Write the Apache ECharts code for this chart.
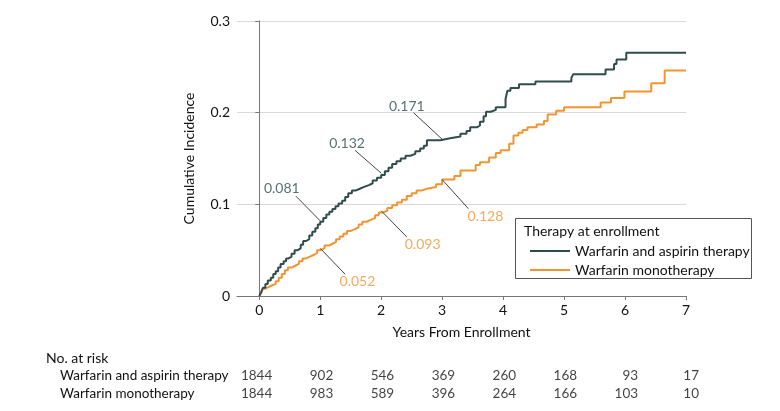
<!DOCTYPE html>
<html>
<head>
<meta charset="utf-8">
<script src="https://cdn.jsdelivr.net/npm/echarts@6/dist/echarts.min.js"></script>
<style>
html,body{margin:0;padding:0;background:#fff;}
#chart{width:780px;height:411px;}
</style>
</head>
<body>
<div id="chart"></div>
<script>
// ---------- data ----------
const seriesNames = ['Warfarin and aspirin therapy', 'Warfarin monotherapy'];

const aspirinTimes = [0,0.03,0.06,0.10,0.14,0.19,0.23,0.27,0.31,0.35,0.40,0.44,0.48,0.53,0.58,0.63,0.68,0.72,0.77,0.82,0.87,0.92,0.96,1.00,1.05,1.10,1.15,1.20,1.25,1.30,1.36,1.41,1.46,1.52,1.58,1.65,1.72,1.80,1.86,1.93,2.00,2.06,2.12,2.18,2.25,2.32,2.40,2.48,2.56,2.64,2.70,2.75,2.97,3.13,3.30,3.40,3.46,3.57,3.62,3.68,3.72,3.80,3.88,4.04,4.07,4.12,4.26,4.53,5.12,5.15,5.68,5.82,5.86,6.02,7.00];
const aspirinValues = [0,0.004,0.009,0.013,0.017,0.020,0.024,0.027,0.031,0.035,0.038,0.041,0.043,0.046,0.050,0.052,0.056,0.060,0.062,0.066,0.070,0.074,0.078,0.081,0.085,0.089,0.092,0.095,0.098,0.101,0.104,0.108,0.112,0.115,0.117,0.119,0.121,0.123,0.126,0.129,0.132,0.136,0.140,0.144,0.147,0.150,0.153,0.155,0.158,0.161,0.164,0.170,0.172,0.174,0.177,0.180,0.184,0.186,0.190,0.196,0.201,0.203,0.206,0.215,0.224,0.227,0.231,0.234,0.238,0.242,0.247,0.253,0.258,0.2655,0.2655];

const monoTimes = [0,0.03,0.06,0.10,0.16,0.22,0.27,0.32,0.37,0.42,0.47,0.53,0.59,0.65,0.71,0.77,0.83,0.90,0.95,1.00,1.07,1.14,1.20,1.26,1.32,1.38,1.44,1.50,1.57,1.63,1.69,1.76,1.83,1.90,1.96,2.02,2.10,2.18,2.26,2.34,2.42,2.50,2.58,2.66,2.75,2.90,3.00,3.20,3.30,3.55,3.62,3.77,3.88,3.96,4.10,4.17,4.25,4.32,4.40,4.55,4.67,4.73,4.87,5.00,5.60,5.77,5.99,6.43,6.65,7.00];
const monoValues = [0,0.003,0.008,0.010,0.012,0.013,0.016,0.020,0.024,0.028,0.031,0.033,0.035,0.038,0.041,0.043,0.045,0.047,0.050,0.052,0.055,0.057,0.059,0.062,0.065,0.068,0.071,0.073,0.075,0.078,0.081,0.083,0.085,0.088,0.091,0.093,0.096,0.099,0.102,0.105,0.109,0.112,0.115,0.117,0.119,0.122,0.127,0.131,0.137,0.143,0.146,0.151,0.156,0.159,0.166,0.175,0.178,0.181,0.184,0.187,0.191,0.198,0.202,0.206,0.211,0.216,0.223,0.232,0.246,0.246];

const xTicks = [0,1,2,3,4,5,6,7];
const yTicks = [0,0.1,0.2,0.3];

const atRiskAspirin = [1844,902,546,369,260,168,93,17];
const atRiskMono    = [1844,983,589,396,264,166,103,10];

// callout annotations: series index, point on curve, label value text
const calloutText   = ['0.081','0.132','0.171','0.052','0.093','0.128'];
const calloutSeries = [0,0,0,1,1,1];
const calloutPoint  = [[1,0.082],[2,0.134],[3,0.171],[1,0.052],[2,0.093],[3,0.127]];
const calloutElbow  = [[0.60,0.109],[1.57,0.159],[2.53,0.200],[1.41,0.0237],[2.42,0.0644],[3.43,0.0953]];
const calloutLabel  = [[0.37,0.117],[1.44,0.166],[2.42,0.207],[1.61,0.016],[2.68,0.0564],[3.71,0.0862]];

// ---------- style ----------
const colors = ['#2f4d4a', '#f39433'];
const FONT = 'Lato';
const TXT = '#111';
const FS = 14;

const zip = (a, b) => a.map((v, i) => [v, b[i]]);

const chart = echarts.init(document.getElementById('chart'), null, {renderer: 'canvas'});

const series = [
  {
    name: seriesNames[0], type: 'line', step: 'end', symbol: 'none',
    data: zip(aspirinTimes, aspirinValues),
    lineStyle: {color: colors[0], width: 2}, itemStyle: {color: colors[0]},
    z: 4, xAxisIndex: 0, yAxisIndex: 0
  },
  {
    name: seriesNames[1], type: 'line', step: 'end', symbol: 'none',
    data: zip(monoTimes, monoValues),
    lineStyle: {color: colors[1], width: 2}, itemStyle: {color: colors[1]},
    z: 3, xAxisIndex: 0, yAxisIndex: 0
  },
  {
    type: 'lines', coordinateSystem: 'cartesian2d', polyline: true,
    xAxisIndex: 0, yAxisIndex: 0, silent: true, z: 5,
    lineStyle: {color: '#444', width: 1, opacity: 1},
    data: calloutPoint.map((p, i) => ({coords: [p, calloutElbow[i]]}))
  },
  {
    type: 'scatter', symbolSize: 0, silent: true, xAxisIndex: 0, yAxisIndex: 0, z: 6,
    data: calloutLabel.map((p, i) => ({
      value: p,
      label: {
        show: true, position: 'inside', formatter: calloutText[i],
        color: colors[calloutSeries[i]], fontSize: FS, fontFamily: FONT
      }
    }))
  },
  {
    type: 'scatter', symbolSize: 0, silent: true, xAxisIndex: 1, yAxisIndex: 1,
    data: xTicks.map((t, i) => [t, seriesNames[0], atRiskAspirin[i]])
      .concat(xTicks.map((t, i) => [t, seriesNames[1], atRiskMono[i]])),
    label: {
      show: true, position: 'inside', align: 'right', offset: [13, 0],
      formatter: p => String(p.value[2]),
      color: TXT, fontSize: 13.5, fontFamily: FONT
    }
  }
];

const option = {
  animation: false,
  backgroundColor: '#fff',
  textStyle: {fontFamily: FONT},
  grid: [
    {left: 237, right: 94, top: 21, bottom: 115},
    {left: 237, right: 94, top: 367, height: 35}
  ],
  xAxis: [
    {
      type: 'value', gridIndex: 0, min: -0.365, max: 7,
      name: 'Years From Enrollment', nameLocation: 'middle', nameGap: 29,
      nameTextStyle: {fontSize: FS, color: TXT, fontFamily: FONT},
      axisLine: {show: true, lineStyle: {color: '#777', width: 1}},
      axisTick: {show: true, length: 4, customValues: xTicks, lineStyle: {color: '#777'}},
      axisLabel: {customValues: xTicks, fontSize: FS, color: TXT, margin: 7, fontFamily: FONT},
      splitLine: {show: false}
    },
    {
      type: 'value', gridIndex: 1, min: -0.365, max: 7,
      show: false
    }
  ],
  yAxis: [
    {
      type: 'value', gridIndex: 0, min: 0, max: 0.3, interval: 0.1,
      name: 'Cumulative Incidence', nameLocation: 'middle', nameGap: 41,
      nameTextStyle: {fontSize: FS, color: TXT, fontFamily: FONT},
      axisLine: {show: true, lineStyle: {color: '#777', width: 1}},
      axisTick: {show: true, length: 4, lineStyle: {color: '#777'}},
      axisLabel: {fontSize: FS, color: TXT, margin: 7, fontFamily: FONT,
        formatter: v => v === 0 ? '0' : v.toFixed(1)},
      splitLine: {show: true, lineStyle: {color: '#d9d9d9', width: 1}}
    },
    {
      type: 'category', gridIndex: 1, inverse: true,
      data: seriesNames,
      axisLine: {show: false}, axisTick: {show: false}, splitLine: {show: false},
      axisLabel: {show: true, interval: 0, hideOverlap: false, align: 'left', margin: 177,
        fontSize: 13.5, color: TXT, fontFamily: FONT}
    }
  ],
  legend: {
    show: true, orient: 'vertical', left: 525, top: 239,
    data: seriesNames,
    itemWidth: 40, itemHeight: 12, itemGap: 5,
    icon: 'path://M0,5 L40,5 L40,7 L0,7 Z',
    textStyle: {fontSize: FS, color: TXT, fontFamily: FONT},
    selectedMode: false
  },
  graphic: [
    {type: 'rect', left: 515, top: 218, shape: {width: 236, height: 60},
     style: {fill: '#fff', stroke: '#555', lineWidth: 1}, z: 0, silent: true},
    {type: 'text', left: 524, top: 224, style: {text: 'Therapy at enrollment', fontSize: FS, fill: TXT, fontFamily: FONT}, z: 10},
    {type: 'text', left: 46, top: 351, style: {text: 'No. at risk', fontSize: FS, fill: TXT, fontFamily: FONT}, z: 10}
  ],
  series: series
};

chart.setOption(option);
</script>
</body>
</html>
